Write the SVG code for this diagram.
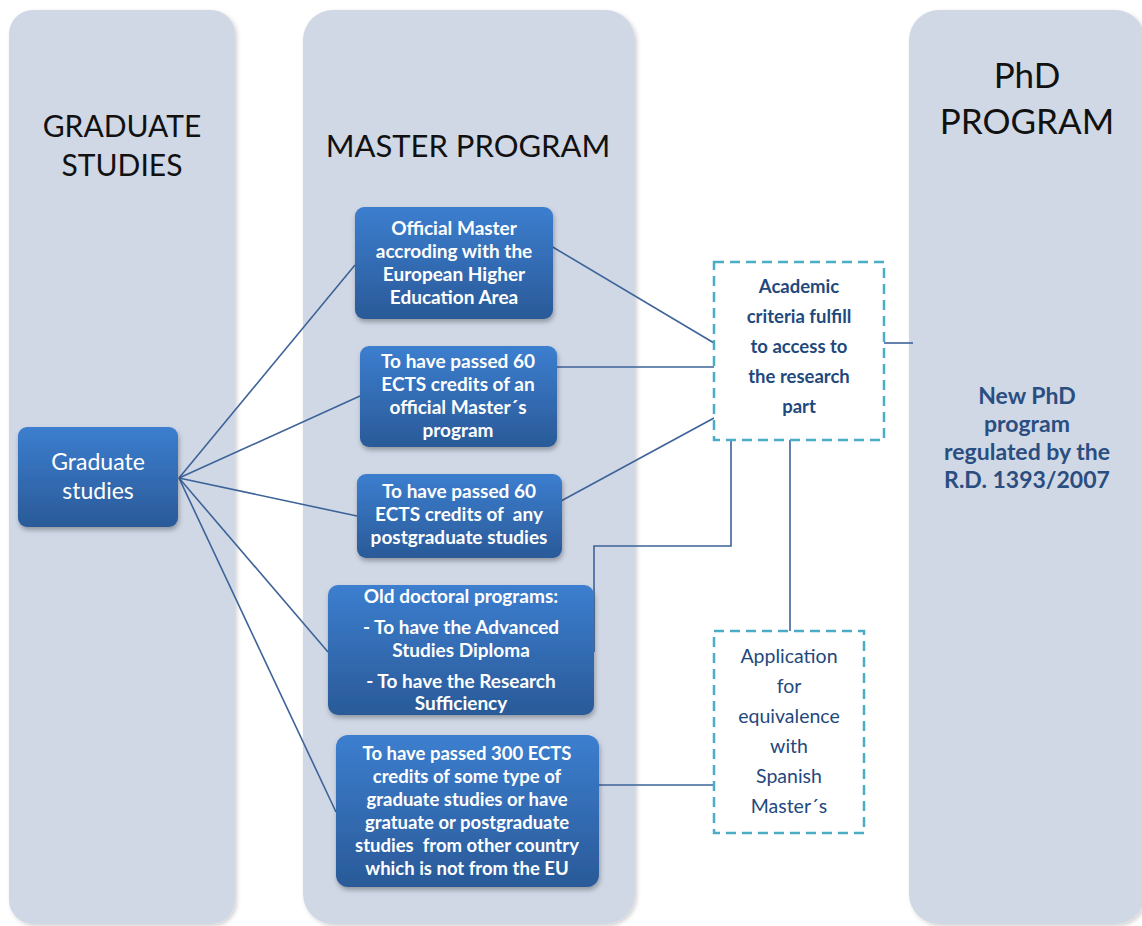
<svg xmlns="http://www.w3.org/2000/svg" width="1142" height="926" viewBox="0 0 1142 926">
<defs>
<linearGradient id="blue" x1="0" y1="0" x2="0" y2="1">
<stop offset="0" stop-color="#3C7ECF"/>
<stop offset="1" stop-color="#2A5A98"/>
</linearGradient>
<filter id="colsh" x="-10%" y="-5%" width="120%" height="110%">
<feDropShadow dx="2" dy="2" stdDeviation="2" flood-color="#000" flood-opacity="0.18"/>
</filter>
<filter id="boxsh" x="-10%" y="-10%" width="120%" height="130%">
<feDropShadow dx="1" dy="3" stdDeviation="2.5" flood-color="#000" flood-opacity="0.3"/>
</filter>
</defs>
<style>
.col{fill:#D0D8E6;filter:url(#colsh)}
.box{fill:url(#blue);filter:url(#boxsh)}
.dash{fill:#FFFFFF;stroke:#4BACC6;stroke-width:2.5;stroke-dasharray:10 6}
.head{font-family:Lato,"Open Sans",sans-serif;fill:#111;text-anchor:middle}
.h30{font-size:30px}
.h31{font-size:31px}
.h35{font-size:35px}
.bt{font-family:Lato,"Open Sans",sans-serif;font-weight:bold;font-size:19px;fill:#FFFFFF;text-anchor:middle}
.bt5{font-size:18.5px}
.gt{font-family:Lato,"Open Sans",sans-serif;font-size:23px;fill:#FFFFFF;text-anchor:middle}
.dt{font-family:Lato,"Open Sans",sans-serif;font-size:19.5px;fill:#1F497D;text-anchor:middle}
.db{font-family:Lato,"Open Sans",sans-serif;font-weight:bold;font-size:18.5px;fill:#1F497D;text-anchor:middle}
.pt{font-family:Lato,"Open Sans",sans-serif;font-weight:bold;font-size:23px;fill:#2A4E80;text-anchor:middle}
.conn{fill:none;stroke:#3D6399;stroke-width:1.6}
</style>

<g id="col-graduate">
<rect class="col" x="9" y="10" width="226" height="914" rx="24"/>
<text class="head h30" x="122" y="137">GRADUATE</text>
<text class="head h30" x="122" y="176">STUDIES</text>
</g>
<g id="col-master">
<rect class="col" x="303" y="10" width="332" height="914" rx="30"/>
<text class="head h31" x="468" y="157">MASTER PROGRAM</text>
</g>
<g id="col-phd">
<rect class="col" x="909" y="10" width="236" height="914" rx="30"/>
<text class="head h35" x="1027" y="88">PhD</text>
<text class="head h35" x="1027" y="134">PROGRAM</text>
<text class="pt" x="1027" y="404">New PhD</text>
<text class="pt" x="1027" y="432">program</text>
<text class="pt" x="1027" y="460">regulated by the</text>
<text class="pt" x="1027" y="488">R.D. 1393/2007</text>
</g>

<g id="connectors">
<line class="conn" x1="179" y1="478" x2="355" y2="265"/>
<line class="conn" x1="179" y1="478" x2="360" y2="396"/>
<line class="conn" x1="179" y1="478" x2="357" y2="516"/>
<line class="conn" x1="179" y1="478" x2="328" y2="652"/>
<line class="conn" x1="179" y1="478" x2="336" y2="812"/>
<line class="conn" x1="551" y1="246" x2="714" y2="343"/>
<line class="conn" x1="551" y1="367" x2="731" y2="367"/>
<line class="conn" x1="561" y1="501" x2="714" y2="418"/>
<polyline class="conn" points="594,652 594,546 731,546 731,440"/>
<line class="conn" x1="790" y1="440" x2="790" y2="631"/>
<line class="conn" x1="593" y1="785" x2="714" y2="785"/>
<line class="conn" x1="884" y1="343" x2="913" y2="343"/>
</g>

<g id="node-graduate-studies">
<rect class="box" x="18" y="427" width="160" height="100" rx="9"/>
<text class="gt" x="98" y="470">Graduate</text>
<text class="gt" x="98" y="499">studies</text>
</g>

<g id="node-official-master">
<rect class="box" x="355" y="207" width="198" height="112" rx="9"/>
<text class="bt" x="454" y="235">Official Master</text>
<text class="bt" x="454" y="258">accroding with the</text>
<text class="bt" x="454" y="281">European Higher</text>
<text class="bt" x="454" y="304">Education Area</text>
</g>

<g id="node-60-master">
<rect class="box" x="360" y="346" width="197" height="101" rx="9"/>
<text class="bt" x="458" y="368">To have passed 60</text>
<text class="bt" x="458" y="391">ECTS credits of an</text>
<text class="bt" x="458" y="414">official Master´s</text>
<text class="bt" x="458" y="437">program</text>
</g>

<g id="node-60-postgraduate">
<rect class="box" x="357" y="474" width="205" height="84" rx="9"/>
<text class="bt" x="459" y="498">To have passed 60</text>
<text class="bt" x="459" y="521" xml:space="preserve">ECTS credits of  any</text>
<text class="bt" x="459" y="544">postgraduate studies</text>
</g>

<g id="node-old-doctoral">
<rect class="box" x="328" y="585" width="266" height="130" rx="10"/>
<text class="bt" x="461" y="603">Old doctoral programs:</text>
<text class="bt" x="461" y="634">- To have the Advanced</text>
<text class="bt" x="461" y="657">Studies Diploma</text>
<text class="bt" x="461" y="688">- To have the Research</text>
<text class="bt" x="461" y="710">Sufficiency</text>
</g>

<g id="node-300-ects">
<rect class="box" x="336" y="735" width="263" height="152" rx="12"/>
<text class="bt bt5" x="467" y="760">To have passed 300 ECTS</text>
<text class="bt bt5" x="467" y="783">credits of some type of</text>
<text class="bt bt5" x="467" y="806">graduate studies or have</text>
<text class="bt bt5" x="467" y="829">gratuate or postgraduate</text>
<text class="bt bt5" x="467" y="852" xml:space="preserve">studies  from other country</text>
<text class="bt bt5" x="467" y="875">which is not from the EU</text>
</g>

<g id="node-academic-criteria">
<rect class="dash" x="714" y="262" width="170" height="178"/>
<text class="db" x="799" y="293">Academic</text>
<text class="db" x="799" y="323">criteria fulfill</text>
<text class="db" x="799" y="353">to access to</text>
<text class="db" x="799" y="383">the research</text>
<text class="db" x="799" y="413">part</text>
</g>

<g id="node-application">
<rect class="dash" x="714" y="631" width="150" height="202"/>
<text class="dt" x="789" y="663">Application</text>
<text class="dt" x="789" y="693">for</text>
<text class="dt" x="789" y="723">equivalence</text>
<text class="dt" x="789" y="753">with</text>
<text class="dt" x="789" y="783">Spanish</text>
<text class="dt" x="789" y="813">Master´s</text>
</g>
</svg>
